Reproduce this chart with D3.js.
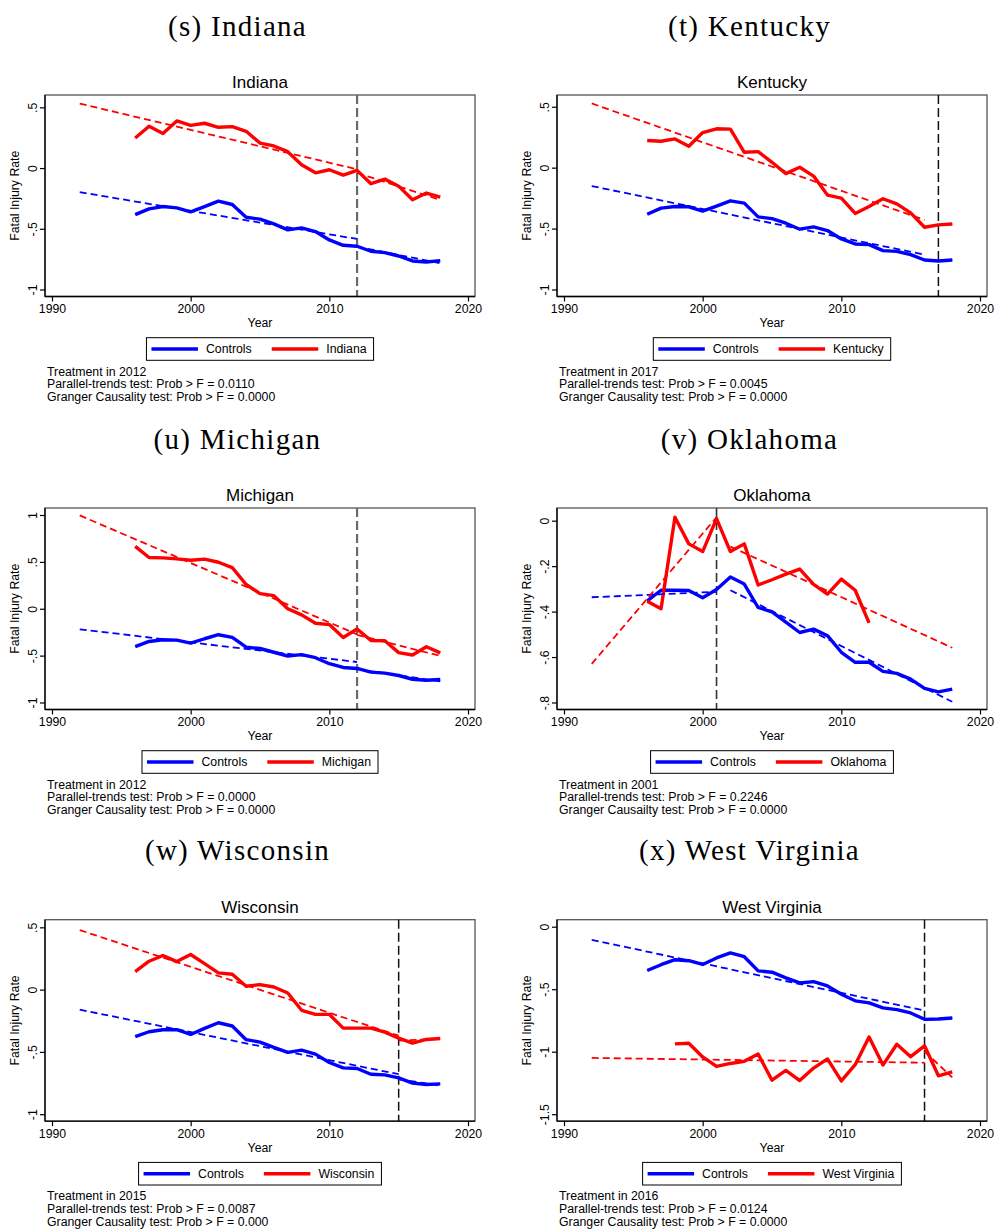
<!DOCTYPE html>
<html>
<head>
<meta charset="utf-8">
<script src="https://cdn.jsdelivr.net/npm/d3@7"></script>
<style>
  body { margin: 0; background: #fff; }
  svg { display: block; }
  text { font-family: "Liberation Sans", Arial, Helvetica, sans-serif; fill: #000; }
</style>
</head>
<body>
<svg id="chart" width="995" height="1229"></svg>
<script>
// ---- Data: annual fatal injury rates (log scale, demeaned) ----
const years = [1996,1997,1998,1999,2000,2001,2002,2003,2004,2005,2006,2007,2008,2009,2010,2011,2012,2013,2014,2015,2016,2017,2018];
const oklahomaYears = [1996,1997,1998,1999,2000,2001,2002,2003,2004,2005,2006,2007,2008,2009,2010,2011,2012];
const wvYears = [1998,1999,2000,2001,2002,2003,2004,2005,2006,2007,2008,2009,2010,2011,2012,2013,2014,2015,2016,2017,2018];

const indianaState     = [0.248,0.344,0.284,0.388,0.352,0.369,0.336,0.341,0.303,0.206,0.182,0.135,0.028,-0.039,-0.014,-0.058,-0.019,-0.129,-0.091,-0.149,-0.261,-0.206,-0.239];
const indianaControls  = [-0.383,-0.336,-0.317,-0.328,-0.361,-0.317,-0.272,-0.300,-0.405,-0.421,-0.460,-0.509,-0.493,-0.523,-0.592,-0.636,-0.644,-0.685,-0.696,-0.724,-0.765,-0.773,-0.762];
const kentuckyState    = [0.223,0.217,0.236,0.176,0.288,0.319,0.316,0.126,0.132,0.044,-0.049,0.003,-0.069,-0.225,-0.250,-0.376,-0.319,-0.255,-0.297,-0.371,-0.489,-0.470,-0.462];
const kentuckyControls = [-0.382,-0.332,-0.319,-0.321,-0.357,-0.316,-0.272,-0.291,-0.404,-0.418,-0.456,-0.505,-0.486,-0.516,-0.585,-0.626,-0.632,-0.681,-0.687,-0.714,-0.758,-0.766,-0.758];
const michiganState    = [0.665,0.547,0.543,0.532,0.518,0.529,0.496,0.439,0.259,0.162,0.140,0.000,-0.065,-0.155,-0.169,-0.306,-0.216,-0.338,-0.342,-0.468,-0.493,-0.406,-0.471];
const michiganControls = [-0.403,-0.349,-0.331,-0.335,-0.367,-0.320,-0.277,-0.306,-0.410,-0.424,-0.464,-0.504,-0.489,-0.522,-0.586,-0.626,-0.637,-0.676,-0.687,-0.712,-0.752,-0.763,-0.755];
const oklahomaState    = [-0.354,-0.387,0.015,-0.102,-0.136,0.009,-0.136,-0.102,-0.283,-0.260,-0.235,-0.213,-0.280,-0.323,-0.257,-0.306,-0.450];
const oklahomaControls = [-0.353,-0.306,-0.306,-0.307,-0.339,-0.303,-0.248,-0.279,-0.382,-0.401,-0.446,-0.492,-0.477,-0.506,-0.579,-0.623,-0.623,-0.663,-0.672,-0.697,-0.738,-0.753,-0.741];
const wisconsinState   = [0.145,0.228,0.274,0.225,0.282,0.209,0.134,0.123,0.027,0.040,0.021,-0.027,-0.166,-0.199,-0.199,-0.309,-0.309,-0.309,-0.341,-0.389,-0.429,-0.400,-0.392];
const wisconsinControls= [-0.378,-0.338,-0.322,-0.322,-0.360,-0.311,-0.266,-0.292,-0.402,-0.421,-0.464,-0.504,-0.486,-0.518,-0.585,-0.628,-0.633,-0.679,-0.684,-0.708,-0.751,-0.762,-0.757];
const wvState          = [-0.937,-0.932,-1.042,-1.118,-1.094,-1.077,-1.018,-1.228,-1.150,-1.231,-1.131,-1.058,-1.234,-1.104,-0.883,-1.107,-0.940,-1.040,-0.953,-1.193,-1.161];
const wvControls       = [-0.350,-0.304,-0.264,-0.272,-0.302,-0.250,-0.210,-0.240,-0.353,-0.364,-0.409,-0.450,-0.439,-0.474,-0.541,-0.593,-0.609,-0.649,-0.663,-0.690,-0.741,-0.738,-0.730];

// ---- Linear trend fits: [startYear, startValue, endYear, endValue] (pre / post treatment) ----
const indianaStateFit       = [[1992,0.531,2012,-0.010],[2012,-0.040,2018,-0.262]];
const indianaControlsFit    = [[1992,-0.198,2012,-0.584],[2012,-0.648,2018,-0.783]];
const kentuckyStateFit      = [[1992,0.527,2016,-0.429],[2017,-0.472,2018,-0.462]];
const kentuckyControlsFit   = [[1992,-0.151,2016,-0.714],[2017,-0.766,2018,-0.758]];
const michiganStateFit      = [[1992,0.996,2012,-0.273],[2012,-0.278,2018,-0.503]];
const michiganControlsFit   = [[1992,-0.219,2012,-0.568],[2012,-0.645,2018,-0.775]];
const oklahomaStateFit      = [[1992,-0.630,2001,0.015],[2002,-0.114,2018,-0.559]];
const oklahomaControlsFit   = [[1992,-0.337,2001,-0.313],[2002,-0.306,2018,-0.797]];
const wisconsinStateFit     = [[1992,0.478,2015,-0.370],[2015,-0.410,2018,-0.395]];
const wisconsinControlsFit  = [[1992,-0.161,2015,-0.679],[2015,-0.720,2018,-0.770]];
const wvStateFit            = [[1992,-1.050,2016,-1.088],[2016,-0.998,2018,-1.206]];
const wvControlsFit         = [[1992,-0.105,2016,-0.671],[2016,-0.745,2018,-0.730]];

// ---- Axis ticks ----
const xTicks = [1990, 2000, 2010, 2020];
const halfTicks = [0.5, 0, -0.5, -1];
const halfTickLabels = [".5", "0", "-.5", "-1"];
const michiganTicks = [1, 0.5, 0, -0.5, -1];
const michiganTickLabels = ["1", ".5", "0", "-.5", "-1"];
const oklahomaTicks = [0, -0.2, -0.4, -0.6, -0.8];
const oklahomaTickLabels = ["0", "-.2", "-.4", "-.6", "-.8"];
const wvTicks = [0, -0.5, -1, -1.5];
const wvTickLabels = ["0", "-.5", "-1", "-1.5"];

// ---- Panel texts ----
const stateNames = ["Indiana", "Kentucky", "Michigan", "Oklahoma", "Wisconsin", "West Virginia"];
const captions = ["(s) Indiana", "(t) Kentucky", "(u) Michigan", "(v) Oklahoma", "(w) Wisconsin", "(x) West Virginia"];
const treatmentYears = [2012, 2017, 2012, 2001, 2015, 2016];
const parallelP = ["0.0110", "0.0045", "0.0000", "0.2246", "0.0087", "0.0124"];
const grangerLines = [
  "Granger Causality test: Prob > F = 0.0000",
  "Granger Causality test: Prob > F = 0.0000",
  "Granger Causality test: Prob > F = 0.0000",
  "Granger Causailty test: Prob > F = 0.0000",
  "Granger Causality test: Prob > F = 0.000",
  "Granger Causality test: Prob > F = 0.0000"
];

const panels = [
  { state: indianaState,   stateYears: years,         controls: indianaControls,   stateFit: indianaStateFit,   controlsFit: indianaControlsFit,   ticks: halfTicks,     tickLabels: halfTickLabels,     yMin: -1,   yMax: 0.544, refColor: "#6a6a6a", refWidth: 2.2 },
  { state: kentuckyState,  stateYears: years,         controls: kentuckyControls,  stateFit: kentuckyStateFit,  controlsFit: kentuckyControlsFit,  ticks: halfTicks,     tickLabels: halfTickLabels,     yMin: -1,   yMax: 0.539, refColor: "#111",    refWidth: 1.5 },
  { state: michiganState,  stateYears: years,         controls: michiganControls,  stateFit: michiganStateFit,  controlsFit: michiganControlsFit,  ticks: michiganTicks, tickLabels: michiganTickLabels, yMin: -1,   yMax: 1.0,   refColor: "#6a6a6a", refWidth: 2.2 },
  { state: oklahomaState,  stateYears: oklahomaYears, controls: oklahomaControls,  stateFit: oklahomaStateFit,  controlsFit: oklahomaControlsFit,  ticks: oklahomaTicks, tickLabels: oklahomaTickLabels, yMin: -0.8, yMax: 0.025, refColor: "#333",    refWidth: 1.6 },
  { state: wisconsinState, stateYears: years,         controls: wisconsinControls, stateFit: wisconsinStateFit, controlsFit: wisconsinControlsFit, ticks: halfTicks,     tickLabels: halfTickLabels,     yMin: -1,   yMax: 0.505, refColor: "#111",    refWidth: 1.5 },
  { state: wvState,        stateYears: wvYears,       controls: wvControls,        stateFit: wvStateFit,        controlsFit: wvControlsFit,        ticks: wvTicks,       tickLabels: wvTickLabels,       yMin: -1.5, yMax: 0.0,   refColor: "#111",    refWidth: 1.5 }
];

// ---- Layout ----
const colX = [0, 512];
const rowY = [0, 413, 824.7];
const frame = { left: 45, right: 475, top: 95, bottom: 296.5 };
const inset = 7;
const RED = "#ff0000", BLUE = "#0000ff";
const smallFont = 12.3;

const svg = d3.select("#chart");

panels.forEach((p, i) => {
  const g = svg.append("g")
    .attr("transform", `translate(${colX[i % 2]},${rowY[Math.floor(i / 2)]})`);

  const x = d3.scaleLinear().domain([1990, 2020]).range([52, 468]);
  const y = d3.scaleLinear().domain([p.yMin, p.yMax])
    .range([frame.bottom - inset, frame.top + inset]);

  // caption above the sub-figure
  g.append("text")
    .attr("x", 237.5).attr("y", 35.7)
    .attr("text-anchor", "middle")
    .style("font-family", "'Liberation Serif', 'Times New Roman', serif")
    .style("font-size", "29px")
    .style("letter-spacing", "1.3px")
    .text(captions[i]);

  // panel title
  g.append("text")
    .attr("x", (frame.left + frame.right) / 2).attr("y", 88)
    .attr("text-anchor", "middle")
    .style("font-size", "17px")
    .text(stateNames[i]);

  // plot region outline
  g.append("rect")
    .attr("x", frame.left).attr("y", frame.top)
    .attr("width", frame.right - frame.left)
    .attr("height", frame.bottom - frame.top)
    .attr("fill", "none").attr("stroke", "#555").attr("stroke-width", 1.3);

  // treatment year reference line
  g.append("line")
    .attr("x1", x(treatmentYears[i])).attr("x2", x(treatmentYears[i]))
    .attr("y1", frame.top).attr("y2", frame.bottom)
    .attr("stroke", p.refColor).attr("stroke-width", p.refWidth)
    .attr("stroke-dasharray", "9,4");

  // x axis
  const xAxis = d3.axisBottom(x).tickValues(xTicks).tickFormat(d3.format("d"))
    .tickSize(5).tickPadding(3);
  const gx = g.append("g").attr("transform", `translate(0,${frame.bottom})`).call(xAxis);
  gx.select(".domain").attr("d", `M${frame.left},0H${frame.right}`)
    .attr("stroke", "#000").attr("stroke-width", 1.3);
  gx.selectAll(".tick line").attr("stroke", "#000").attr("stroke-width", 1.2);
  gx.selectAll(".tick text")
    .style("font-size", smallFont + "px")
    .style("font-family", "'Liberation Sans', Arial, sans-serif")
    .attr("fill", "#000");

  // y axis (labels rotated, reading upward)
  const yAxis = d3.axisLeft(y).tickValues(p.ticks)
    .tickFormat((d, k) => p.tickLabels[k]).tickSize(5).tickPadding(0);
  const gy = g.append("g").attr("transform", `translate(${frame.left},0)`).call(yAxis);
  gy.select(".domain").attr("d", `M0,${frame.top}V${frame.bottom}`)
    .attr("stroke", "#000").attr("stroke-width", 1.3);
  gy.selectAll(".tick line").attr("stroke", "#000").attr("stroke-width", 1.2);
  gy.selectAll(".tick text")
    .attr("x", null).attr("dy", null)
    .attr("transform", "translate(-8.5,0) rotate(-90)")
    .attr("text-anchor", "middle")
    .style("font-size", smallFont + "px")
    .style("font-family", "'Liberation Sans', Arial, sans-serif")
    .attr("fill", "#000");

  // axis titles
  g.append("text")
    .attr("transform", `translate(19,${(frame.top + frame.bottom) / 2}) rotate(-90)`)
    .attr("text-anchor", "middle")
    .style("font-size", smallFont + "px")
    .text("Fatal Injury Rate");
  g.append("text")
    .attr("x", (frame.left + frame.right) / 2).attr("y", 327)
    .attr("text-anchor", "middle")
    .style("font-size", smallFont + "px")
    .text("Year");

  // clip marks to the plot region
  const clipId = "clip" + i;
  g.append("clipPath").attr("id", clipId).append("rect")
    .attr("x", frame.left).attr("y", frame.top)
    .attr("width", frame.right - frame.left).attr("height", frame.bottom - frame.top);
  const plot = g.append("g").attr("clip-path", `url(#${clipId})`);

  const line = d3.line().x(d => x(d[0])).y(d => y(d[1])).curve(d3.curveLinear);

  // observed series
  plot.append("path")
    .datum(years.map((yr, k) => [yr, p.controls[k]]))
    .attr("d", line).attr("fill", "none")
    .attr("stroke", BLUE).attr("stroke-width", 3.4)
    .attr("stroke-linejoin", "round").attr("stroke-linecap", "butt");
  plot.append("path")
    .datum(p.stateYears.map((yr, k) => [yr, p.state[k]]))
    .attr("d", line).attr("fill", "none")
    .attr("stroke", RED).attr("stroke-width", 3.4)
    .attr("stroke-linejoin", "round").attr("stroke-linecap", "butt");

  // fitted trends
  const drawFit = (segments, color) => {
    segments.forEach(s => {
      plot.append("path")
        .datum([[s[0], s[1]], [s[2], s[3]]])
        .attr("d", line).attr("fill", "none")
        .attr("stroke", color).attr("stroke-width", 1.8)
        .attr("stroke-dasharray", "7,4");
    });
  };
  drawFit(p.controlsFit, BLUE);
  drawFit(p.stateFit, RED);

  // legend
  const lg = g.append("g");
  const pad = 5, keyLen = 46.5, keyGap = 8, itemGap = 20, padR = 7;
  const boxTop = 337.7, boxH = 22.6, midY = boxTop + boxH / 2;
  const items = [{ label: "Controls", color: BLUE }, { label: stateNames[i], color: RED }];
  let cx = pad;
  const itemsG = lg.append("g");
  items.forEach((it, k) => {
    itemsG.append("line")
      .attr("x1", cx).attr("x2", cx + keyLen)
      .attr("y1", midY).attr("y2", midY)
      .attr("stroke", it.color).attr("stroke-width", 3.4);
    cx += keyLen + keyGap;
    const t = itemsG.append("text")
      .attr("x", cx).attr("y", midY + 4.4)
      .style("font-size", smallFont + "px")
      .text(it.label);
    cx += t.node().getComputedTextLength();
    if (k === 0) cx += itemGap;
  });
  const boxW = cx + padR;
  lg.insert("rect", ":first-child")
    .attr("x", 0).attr("y", boxTop).attr("width", boxW).attr("height", boxH)
    .attr("fill", "#fff").attr("stroke", "#000").attr("stroke-width", 1);
  lg.attr("transform", `translate(${(frame.left + frame.right) / 2 - boxW / 2},0)`);

  // notes
  const notes = [
    "Treatment in " + treatmentYears[i],
    "Parallel-trends test: Prob > F = " + parallelP[i],
    grangerLines[i]
  ];
  notes.forEach((n, k) => {
    g.append("text")
      .attr("x", 47).attr("y", 375.5 + k * 12.8)
      .style("font-size", smallFont + "px")
      .text(n);
  });
});
</script>
</body>
</html>
